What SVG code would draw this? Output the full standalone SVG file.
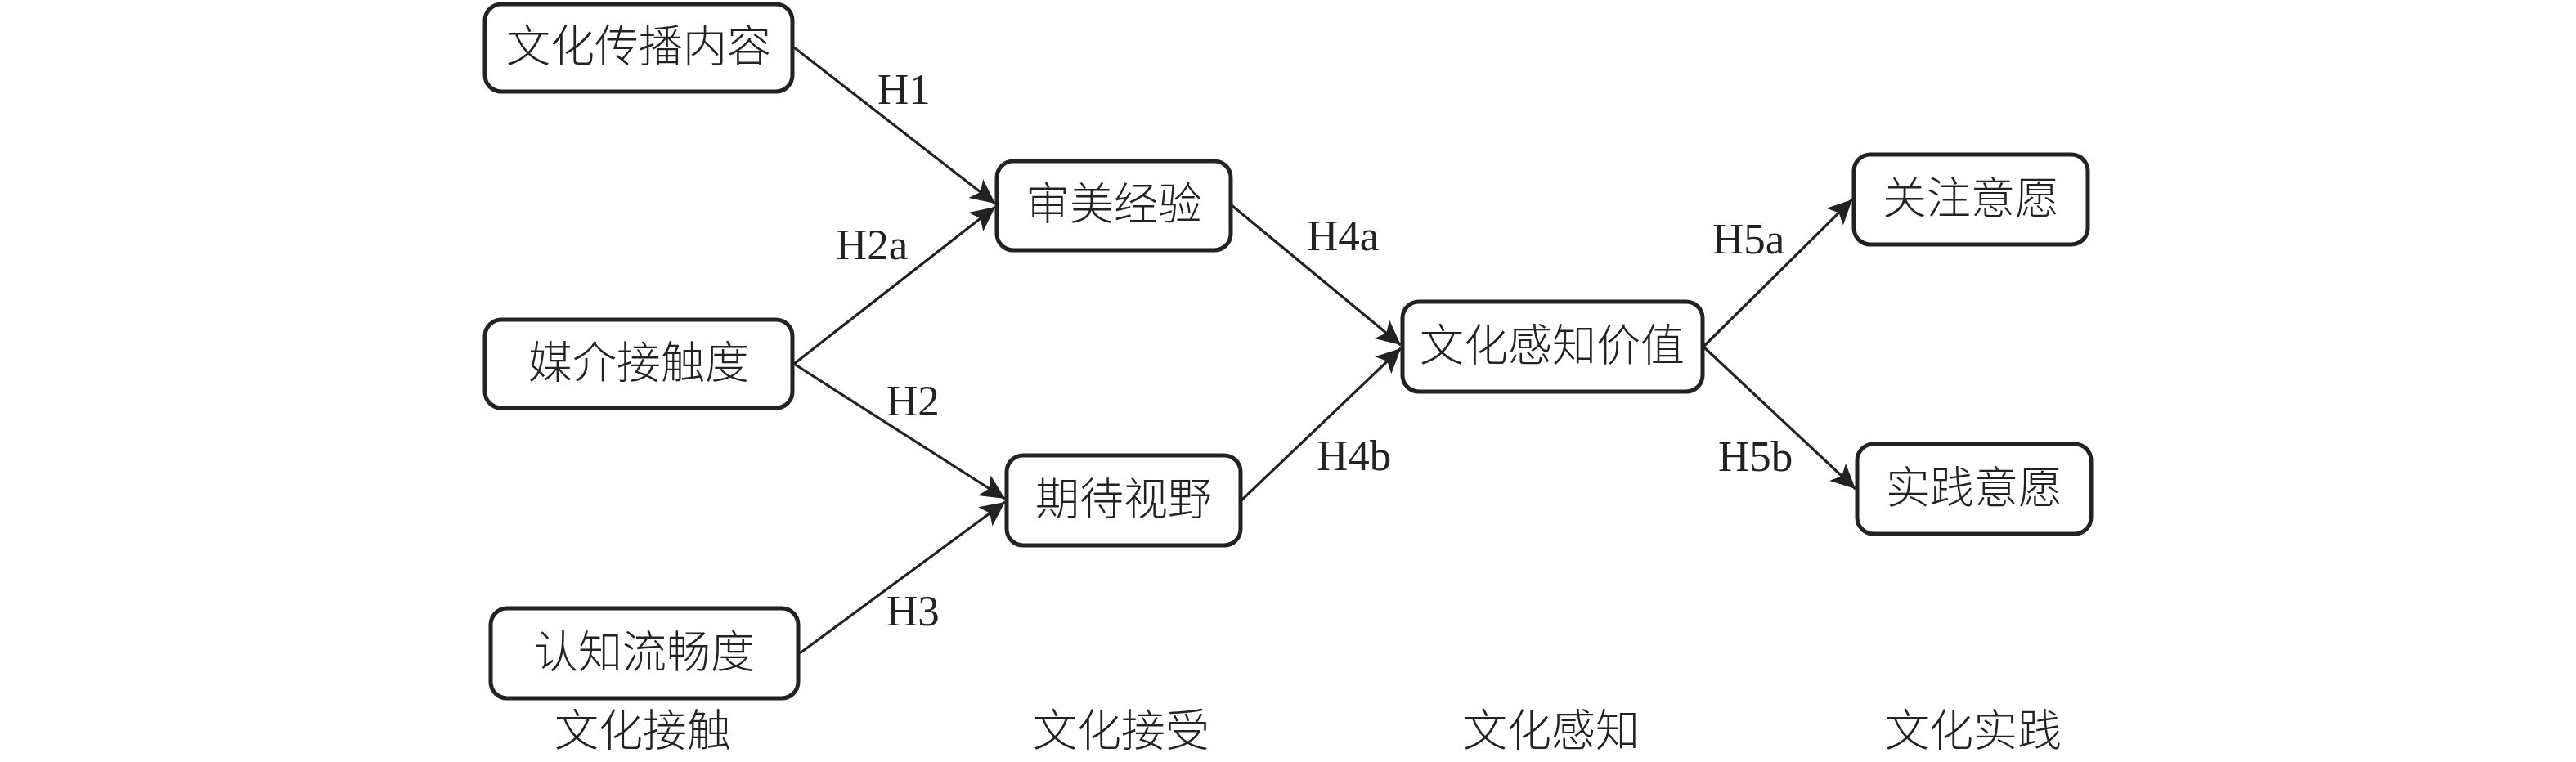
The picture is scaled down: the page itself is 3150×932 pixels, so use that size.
<svg xmlns="http://www.w3.org/2000/svg" width="3150" height="932" viewBox="0 0 3150 932">
<style>
.box{fill:#fff;stroke:#222;stroke-width:5}
.nt{font-family:'Liberation Serif','Noto Sans CJK SC',serif;font-size:54px;fill:#222;text-anchor:middle;font-weight:300}
.lb{font-family:'Liberation Serif',serif;font-size:53px;fill:#222}
.ln{stroke:#222;stroke-width:3.2;fill:none;marker-end:url(#ah)}
</style>
<defs>
<marker id="ah" markerUnits="userSpaceOnUse" markerWidth="40" markerHeight="40" viewBox="-36 -18 40 36" refX="0" refY="0" orient="auto">
<path d="M0,0 L-30,-14.5 L-23,0 L-30,14.5 Z" fill="#222"/>
</marker>
</defs>
<rect width="3150" height="932" fill="#fff"/>
<g id="connectors">
<line class="ln" x1="971" y1="58" x2="1217" y2="249"/>
<line class="ln" x1="971" y1="445" x2="1217" y2="253"/>
<line class="ln" x1="971" y1="445" x2="1229" y2="610"/>
<line class="ln" x1="978" y1="799" x2="1229" y2="614"/>
<line class="ln" x1="1506" y1="251" x2="1713" y2="422"/>
<line class="ln" x1="1518" y1="612" x2="1713" y2="426"/>
<line class="ln" x1="2083" y1="424" x2="2265" y2="244"/>
<line class="ln" x1="2083" y1="424" x2="2269" y2="598"/>
<text class="lb" x="1073" y="127">H1</text>
<text class="lb" x="1022" y="317">H2a</text>
<text class="lb" x="1084" y="508">H2</text>
<text class="lb" x="1084" y="765">H3</text>
<text class="lb" x="1598" y="306">H4a</text>
<text class="lb" x="1610" y="575">H4b</text>
<text class="lb" x="2094" y="310">H5a</text>
<text class="lb" x="2101" y="576">H5b</text>
</g>
<g id="n1"><rect class="box" x="593" y="5" width="376" height="107" rx="20"/><text class="nt" x="781" y="76">文化传播内容</text></g>
<g id="n2"><rect class="box" x="593" y="391" width="376" height="108" rx="20"/><text class="nt" x="781" y="463">媒介接触度</text></g>
<g id="n3"><rect class="box" x="600" y="744" width="376" height="110" rx="20"/><text class="nt" x="788" y="817">认知流畅度</text></g>
<g id="n4"><rect class="box" x="1219" y="197" width="286" height="109" rx="20"/><text class="nt" x="1362" y="269">审美经验</text></g>
<g id="n5"><rect class="box" x="1231" y="557" width="286" height="110" rx="20"/><text class="nt" x="1374" y="630">期待视野</text></g>
<g id="n6"><rect class="box" x="1715" y="369" width="367" height="110" rx="20"/><text class="nt" x="1898" y="442">文化感知价值</text></g>
<g id="n7"><rect class="box" x="2267" y="189" width="286" height="110" rx="20"/><text class="nt" x="2410" y="262">关注意愿</text></g>
<g id="n8"><rect class="box" x="2271" y="543" width="286" height="110" rx="20"/><text class="nt" x="2414" y="616">实践意愿</text></g>
<g id="stages">
<text class="nt" x="786" y="913">文化接触</text>
<text class="nt" x="1371" y="913">文化接受</text>
<text class="nt" x="1897" y="913">文化感知</text>
<text class="nt" x="2413" y="913">文化实践</text>
</g>
</svg>
